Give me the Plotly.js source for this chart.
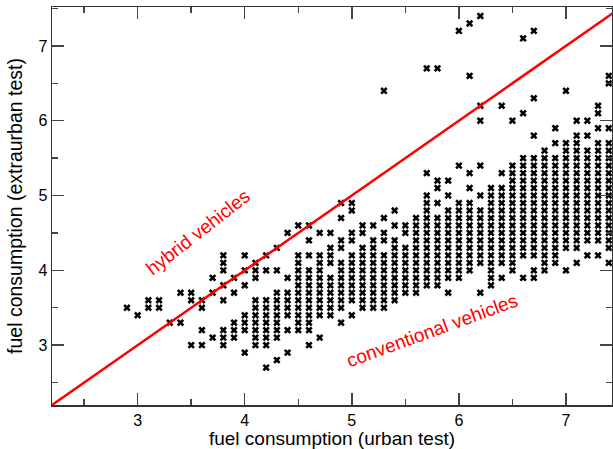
<!DOCTYPE html>
<html>
<head>
<meta charset="utf-8">
<script src="https://cdn.plot.ly/plotly-3.0.1.min.js"></script>
<style>html,body{margin:0;padding:0;background:#fff}#chart{width:613px;height:449px}</style>
</head>
<body>
<div id="chart"></div>
<script>
// Urban-test consumption columns (x) and extraurban-test values observed in each column (y)
const urbanColumns = [2.9, 3.0, 3.1, 3.2, 3.3, 3.4, 3.5, 3.6, 3.7, 3.8, 3.9, 4.0, 4.1, 4.2, 4.3, 4.4, 4.5, 4.6, 4.7, 4.8, 4.9, 5.0, 5.1, 5.2, 5.3, 5.4, 5.5, 5.6, 5.7, 5.8, 5.9, 6.0, 6.1, 6.2, 6.3, 6.4, 6.5, 6.6, 6.7, 6.8, 6.9, 7.0, 7.1, 7.2, 7.3, 7.4];
const extraurbanByColumn = [
  [3.5],
  [3.4],
  [3.6, 3.5],
  [3.6, 3.5],
  [3.3],
  [3.7, 3.3],
  [3.7, 3.6, 3.0],
  [3.6, 3.5, 3.2, 3.0],
  [3.9, 3.7, 3.1],
  [4.2, 4.1, 4.0, 3.8, 3.6, 3.2, 3.1, 3.0],
  [3.9, 3.7, 3.3, 3.2, 3.1],
  [4.2, 4.0, 3.8, 3.4, 3.3, 3.2, 2.9],
  [4.1, 4.0, 3.9, 3.6, 3.5, 3.4, 3.3, 3.2, 3.1, 3.0],
  [4.2, 4.0, 3.6, 3.5, 3.4, 3.3, 3.2, 3.1, 3.0, 2.7],
  [4.3, 4.0, 3.7, 3.6, 3.5, 3.4, 3.3, 3.2, 3.1, 2.8],
  [4.5, 3.9, 3.7, 3.6, 3.5, 3.4, 3.2, 2.9],
  [4.6, 4.2, 4.1, 4.0, 3.9, 3.8, 3.7, 3.6, 3.5, 3.4, 3.3, 3.2],
  [4.6, 4.4, 4.2, 4.0, 3.9, 3.8, 3.7, 3.6, 3.5, 3.4, 3.3, 3.2, 3.0],
  [4.5, 4.2, 4.1, 4.0, 3.9, 3.8, 3.7, 3.6, 3.5, 3.4, 3.1],
  [4.5, 4.3, 4.2, 4.1, 3.9, 3.8, 3.7, 3.6, 3.5, 3.4],
  [4.9, 4.7, 4.4, 4.3, 4.1, 4.0, 3.9, 3.8, 3.7, 3.6, 3.5, 3.3],
  [4.9, 4.8, 4.5, 4.4, 4.2, 4.1, 4.0, 3.9, 3.8, 3.7, 3.6, 3.4],
  [4.6, 4.5, 4.3, 4.2, 4.1, 4.0, 3.9, 3.8, 3.7, 3.6, 3.5],
  [4.6, 4.4, 4.3, 4.2, 4.1, 4.0, 3.9, 3.8, 3.7, 3.6, 3.5],
  [6.4, 4.7, 4.5, 4.4, 4.2, 4.1, 4.0, 3.9, 3.8, 3.7, 3.6, 3.5],
  [4.8, 4.6, 4.4, 4.3, 4.2, 4.1, 4.0, 3.9, 3.8, 3.7, 3.6],
  [4.6, 4.5, 4.3, 4.2, 4.1, 4.0, 3.9, 3.8, 3.7],
  [4.7, 4.6, 4.5, 4.4, 4.3, 4.2, 4.1, 4.0, 3.9, 3.8, 3.7],
  [6.7, 5.3, 5.0, 4.9, 4.8, 4.7, 4.6, 4.5, 4.4, 4.3, 4.2, 4.1, 4.0, 3.9, 3.8],
  [6.7, 5.2, 5.1, 4.9, 4.7, 4.6, 4.5, 4.4, 4.3, 4.2, 4.1, 4.0, 3.9, 3.8],
  [5.2, 5.0, 4.8, 4.7, 4.6, 4.5, 4.4, 4.3, 4.2, 4.1, 4.0, 3.9, 3.7],
  [7.2, 5.4, 4.9, 4.8, 4.7, 4.6, 4.5, 4.4, 4.3, 4.2, 4.1, 4.0, 3.9],
  [7.3, 6.6, 5.3, 5.1, 4.9, 4.8, 4.7, 4.6, 4.5, 4.4, 4.3, 4.2, 4.1, 4.0],
  [7.4, 6.2, 6.0, 5.4, 5.0, 4.8, 4.7, 4.6, 4.5, 4.4, 4.3, 4.2, 4.1, 3.7],
  [5.1, 5.0, 4.9, 4.8, 4.7, 4.6, 4.5, 4.4, 4.3, 4.2, 4.1, 4.0, 3.9, 3.8],
  [6.2, 5.3, 5.1, 5.0, 4.9, 4.8, 4.7, 4.6, 4.5, 4.4, 4.3, 4.2, 4.1, 3.9],
  [6.0, 5.4, 5.3, 5.2, 5.1, 5.0, 4.9, 4.8, 4.7, 4.6, 4.5, 4.4, 4.3, 4.2, 4.1, 4.0],
  [7.1, 6.1, 5.5, 5.4, 5.3, 5.2, 5.1, 5.0, 4.9, 4.8, 4.7, 4.6, 4.5, 4.4, 4.3, 4.2, 3.9],
  [7.2, 6.3, 5.8, 5.5, 5.4, 5.3, 5.2, 5.1, 5.0, 4.9, 4.8, 4.7, 4.6, 4.5, 4.4, 4.3, 4.2, 4.0, 3.9],
  [5.6, 5.5, 5.4, 5.3, 5.2, 5.1, 5.0, 4.9, 4.8, 4.7, 4.6, 4.5, 4.4, 4.3, 4.2, 4.1, 4.0],
  [5.9, 5.7, 5.5, 5.4, 5.3, 5.2, 5.1, 5.0, 4.9, 4.8, 4.7, 4.6, 4.5, 4.4, 4.3, 4.2, 4.1],
  [6.4, 5.7, 5.6, 5.5, 5.4, 5.3, 5.2, 5.1, 5.0, 4.9, 4.8, 4.7, 4.6, 4.5, 4.4, 4.3, 4.0],
  [6.0, 5.8, 5.7, 5.6, 5.5, 5.4, 5.3, 5.2, 5.1, 5.0, 4.9, 4.8, 4.7, 4.6, 4.5, 4.4, 4.3, 4.1],
  [6.0, 5.8, 5.6, 5.5, 5.4, 5.3, 5.2, 5.1, 5.0, 4.9, 4.8, 4.7, 4.6, 4.5, 4.4, 4.2],
  [6.2, 6.1, 5.9, 5.7, 5.6, 5.5, 5.4, 5.3, 5.2, 5.1, 5.0, 4.9, 4.8, 4.7, 4.6, 4.5, 4.4, 4.2],
  [6.6, 6.5, 5.9, 5.7, 5.6, 5.5, 5.4, 5.3, 5.2, 5.1, 5.0, 4.9, 4.8, 4.7, 4.6, 4.5, 4.4, 4.3, 4.1]
];
// Dividing line (equal urban / extraurban consumption)
const dividerX = [2.2, 7.45];
const dividerY = [2.2, 7.45];
const xTicks = [3, 4, 5, 6, 7];
const yTicks = [3, 4, 5, 6, 7];
const xTitle = 'fuel consumption (urban test)';
const yTitle = 'fuel consumption (extraurban test)';
const labelHybrid = 'hybrid vehicles';
const labelConventional = 'conventional vehicles';

const px = [], py = [];
urbanColumns.forEach((x, i) => {
  extraurbanByColumn[i].forEach(y => { px.push(x); py.push(y); });
});

const FONT = 'Liberation Sans, Arial, sans-serif';
const axisCommon = {
  showgrid: false, zeroline: false,
  showline: true, linecolor: '#333', linewidth: 1.5,
  mirror: 'ticks', ticks: 'inside', ticklen: 12, tickwidth: 1.5, tickcolor: '#444',
  minor: {dtick: 0.5, ticks: 'inside', ticklen: 6, tickwidth: 1.5, tickcolor: '#444'},
  tickfont: {family: FONT, size: 16, color: '#000'}
};

const data = [
  {x: px, y: py, type: 'scatter', mode: 'markers',
   marker: {symbol: 'x', size: 6.5, color: '#000', line: {width: 0}},
   hoverinfo: 'skip', cliponaxis: true},
  {x: dividerX, y: dividerY, type: 'scatter', mode: 'lines',
   line: {color: '#ff0000', width: 2.5}, hoverinfo: 'skip'}
];

const layout = {
  width: 613, height: 449,
  margin: {l: 52, r: 1, t: 7, b: 44},
  paper_bgcolor: '#fff', plot_bgcolor: '#fff',
  showlegend: false,
  font: {family: FONT, color: '#000'},
  xaxis: Object.assign({}, axisCommon, {
    range: [2.2, 7.43], tickvals: xTicks, ticktext: xTicks.map(String),
    title: {text: xTitle, font: {family: FONT, size: 19, color: '#000'}, standoff: 4}
  }),
  yaxis: Object.assign({}, axisCommon, {
    range: [2.2, 7.52], tickvals: yTicks, ticktext: yTicks.map(String),
    title: {text: yTitle, font: {family: FONT, size: 19.5, color: '#000'}, standoff: 10}
  }),
  annotations: [
    {x: 3.56, y: 4.51, xref: 'x', yref: 'y', text: labelHybrid, showarrow: false,
     textangle: -38, font: {family: FONT, size: 19, color: '#ff0000'}},
    {x: 5.75, y: 3.19, xref: 'x', yref: 'y', text: labelConventional, showarrow: false,
     textangle: -20, font: {family: FONT, size: 19, color: '#ff0000'}}
  ]
};

Plotly.newPlot('chart', data, layout, {staticPlot: true, displayModeBar: false});
</script>
</body>
</html>
